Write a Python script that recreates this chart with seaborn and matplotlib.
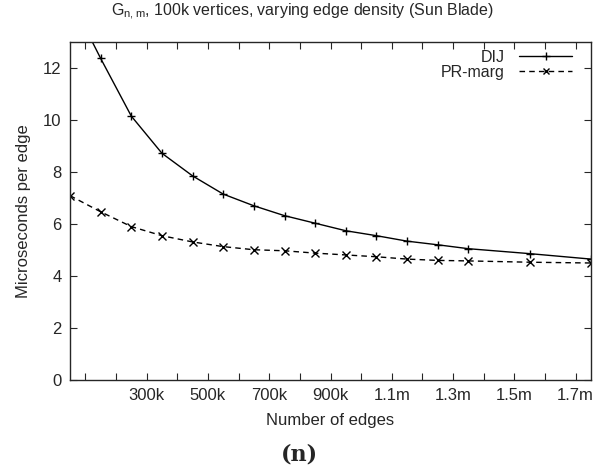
import numpy as np
import pandas as pd
import matplotlib
matplotlib.use('Agg')
import matplotlib.pyplot as plt
import seaborn as sns
from matplotlib.lines import Line2D
from matplotlib.ticker import MultipleLocator, FuncFormatter

# ================= data =================
edges = [50e3, 150e3, 250e3, 350e3, 450e3, 550e3, 650e3, 750e3, 850e3,
         950e3, 1050e3, 1150e3, 1250e3, 1350e3, 1550e3, 1750e3]
dij = [14.7, 12.37, 10.15, 8.72, 7.85, 7.15, 6.70, 6.32, 6.03,
       5.74, 5.55, 5.34, 5.20, 5.05, 4.86, 4.65]
pr_marg = [7.09, 6.47, 5.90, 5.55, 5.31, 5.13, 5.01, 4.97, 4.88,
           4.81, 4.74, 4.65, 4.60, 4.58, 4.53, 4.50]
series_names = ['DIJ', 'PR-marg']
xtick_vals = [300e3, 500e3, 700e3, 900e3, 1100e3, 1300e3, 1500e3, 1700e3]


def fmt_edges(v, pos):
    if v >= 1e6:
        return f'{v / 1e6:.1f}m'
    return f'{int(round(v / 1e3))}k'


def main():
    sns.set_style('ticks')
    plt.rcParams['font.family'] = ['Liberation Sans', 'DejaVu Sans']
    plt.rcParams['mathtext.default'] = 'regular'

    df = pd.DataFrame({
        'edges': edges * 2,
        'us': dij + pr_marg,
        'algo': ['DIJ'] * len(edges) + ['PR-marg'] * len(edges),
    })

    fig = plt.figure(figsize=(5.99, 4.76), dpi=100)
    ax = fig.add_axes([70 / 599, 1 - 380 / 476, 521 / 599, 338 / 476])

    sns.lineplot(data=df, x='edges', y='us', hue='algo', style='algo',
                 palette={'DIJ': 'black', 'PR-marg': 'black'},
                 markers={'DIJ': '+', 'PR-marg': 'x'},
                 dashes={'DIJ': '', 'PR-marg': (4, 3)},
                 markersize=6, markeredgewidth=1.0, markeredgecolor='black',
                 linewidth=1.0, ax=ax, legend=False)

    ax.set_xlim(50e3, 1750e3)
    ax.set_ylim(0, 13)

    ax.set_xticks(xtick_vals)
    ax.xaxis.set_major_formatter(FuncFormatter(fmt_edges))
    ax.xaxis.set_minor_locator(MultipleLocator(100e3))
    ax.yaxis.set_major_locator(MultipleLocator(2))

    ax.tick_params(which='both', direction='in', top=True, right=True,
                   length=5, width=0.8, labelsize=12)
    ax.tick_params(axis='x', pad=6)
    ax.tick_params(axis='y', pad=6)
    for s in ax.spines.values():
        s.set_linewidth(1.0)
        s.set_visible(True)

    ax.set_xlabel('Number of edges', fontsize=12, labelpad=7)
    ax.set_ylabel('Microseconds per edge', fontsize=12, labelpad=9)
    fig.text(0.505, 1 - 12 / 476,
             'G$_{n,m}$, 100k vertices, varying edge density (Sun Blade)',
             ha='center', va='center', fontsize=11.5)

    # legend with the sample to the right of the text
    handles = [
        Line2D([], [], color='black', lw=1.0, marker='+', markersize=6),
        Line2D([], [], color='black', lw=1.0, ls=(0, (4, 3)), marker='x', markersize=5),
    ]
    ax.legend(handles, series_names, loc='upper right', frameon=False,
              markerfirst=False, handlelength=3.3, fontsize=11.5,
              borderpad=0, borderaxespad=0, labelspacing=0.0, handletextpad=0.9,
              bbox_to_anchor=((572 - 70) / 521, (380 - 50) / 338))

    fig.text(0.5, 1 - 455 / 476, '(n)', ha='center', va='center',
             fontsize=16, fontweight='bold', family='DejaVu Serif')

    fig.savefig('out.png', dpi=100)
    plt.close(fig)


if __name__ == '__main__':
    main()
